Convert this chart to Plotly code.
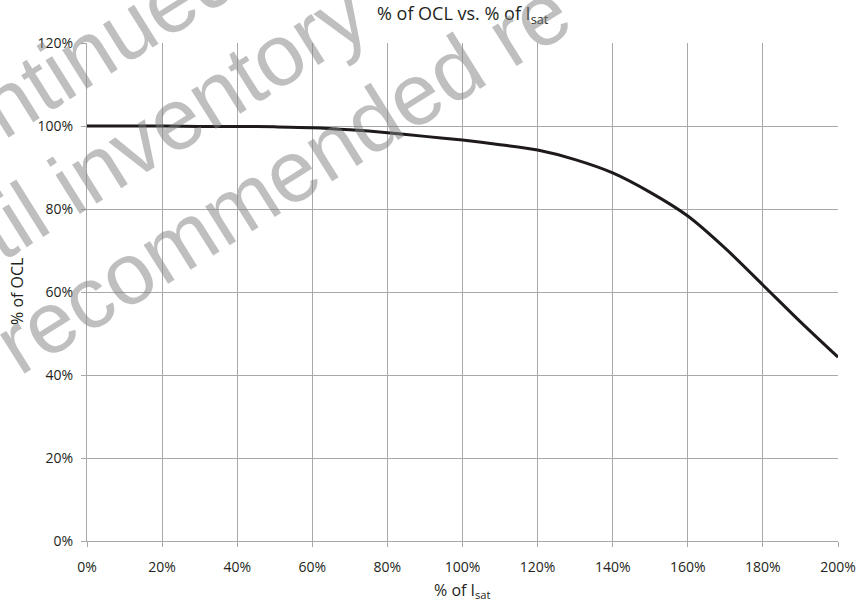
import plotly.graph_objects as go

# data
isat_pct = [0, 10, 20, 30, 40, 50, 60, 70, 80, 90, 100, 110, 120, 130, 140, 150, 160, 170, 180, 190, 200]
ocl_pct = [100, 100, 100, 99.9, 99.9, 99.8, 99.6, 99.1, 98.4, 97.5, 96.6, 95.5, 94.2, 91.9, 88.7, 84.0, 78.3, 70.5, 61.7, 52.8, 44.3]

x_ticks = [0, 20, 40, 60, 80, 100, 120, 140, 160, 180, 200]
x_tick_labels = [f"{v}%" for v in x_ticks]
y_ticks = [0, 20, 40, 60, 80, 100, 120]
y_tick_labels = [f"{v}%" for v in y_ticks]

title_text = "% of OCL vs. % of I<sub>sat</sub>"
x_title = "% of I<sub>sat</sub>"
y_title = "% of OCL"
watermark_lines = ["ntinued", "til inventory", "recommended re"]

W, H = 857, 604
L, R, T, B = 87, 19, 43, 63
pw, ph = W - L - R, H - T - B

def px2paper(px, py):
    return (px - L) / pw, (H - B - py) / ph

font_family = "Open Sans, Lato, sans-serif"
txt_color = "#231f20"
grid_color = "#a8a8a8"

fig = go.Figure()
fig.add_trace(go.Scatter(
    x=isat_pct, y=ocl_pct, mode="lines",
    line=dict(color="#1e1a1b", width=3, shape="spline", smoothing=0.8),
    hoverinfo="skip", showlegend=False,
))

axis_common = dict(
    showgrid=True, gridcolor=grid_color, gridwidth=1.3,
    showline=True, linecolor=grid_color, linewidth=1.3,
    ticks="outside", ticklen=5, tickcolor=grid_color, tickwidth=1.3,
    tickfont=dict(family=font_family, size=14, color=txt_color),
    zeroline=False, mirror=False, automargin=False,
)

fig.update_xaxes(range=[0, 200], tickvals=x_ticks, ticktext=x_tick_labels,
                 ticklabelstandoff=8, **axis_common)
fig.update_yaxes(range=[0, 120], tickvals=y_ticks, ticktext=y_tick_labels,
                 ticklabelstandoff=5, **axis_common)

annotations = []
# titles placed by pixel position
tx, ty = px2paper(L + pw / 2, 15)
annotations.append(dict(text=title_text, xref="paper", yref="paper", x=tx, y=ty,
                        xanchor="center", yanchor="middle", showarrow=False,
                        font=dict(family=font_family, size=18, color=txt_color)))
xx, xy = px2paper(L + pw / 2, 590)
annotations.append(dict(text=x_title, xref="paper", yref="paper", x=xx, y=xy,
                        xanchor="center", yanchor="middle", showarrow=False,
                        font=dict(family=font_family, size=16, color=txt_color)))
yx, yy = px2paper(17, (T + H - B) / 2)
annotations.append(dict(text=y_title, xref="paper", yref="paper", x=yx, y=yy,
                        xanchor="center", yanchor="middle", showarrow=False, textangle=-90,
                        font=dict(family=font_family, size=16, color=txt_color)))

# watermark positions (pixel centers) and shared angle
wm_centers = [(108, 40), (172, 121), (282, 176)]
for txt, (cx, cy) in zip(watermark_lines, wm_centers):
    ax_, ay_ = px2paper(cx, cy)
    annotations.append(dict(
        text=txt, xref="paper", yref="paper", x=ax_, y=ay_,
        xanchor="center", yanchor="middle", showarrow=False, textangle=-32,
        font=dict(family="Liberation Sans, Arial, sans-serif", size=87, color="rgba(128,128,128,0.5)"),
    ))

fig.update_layout(
    width=W, height=H,
    margin=dict(l=L, r=R, t=T, b=B),
    paper_bgcolor="white", plot_bgcolor="white",
    annotations=annotations,
)

fig.write_html("out.html", config={"displayModeBar": False},
               post_script="document.body.style.margin='0';")
